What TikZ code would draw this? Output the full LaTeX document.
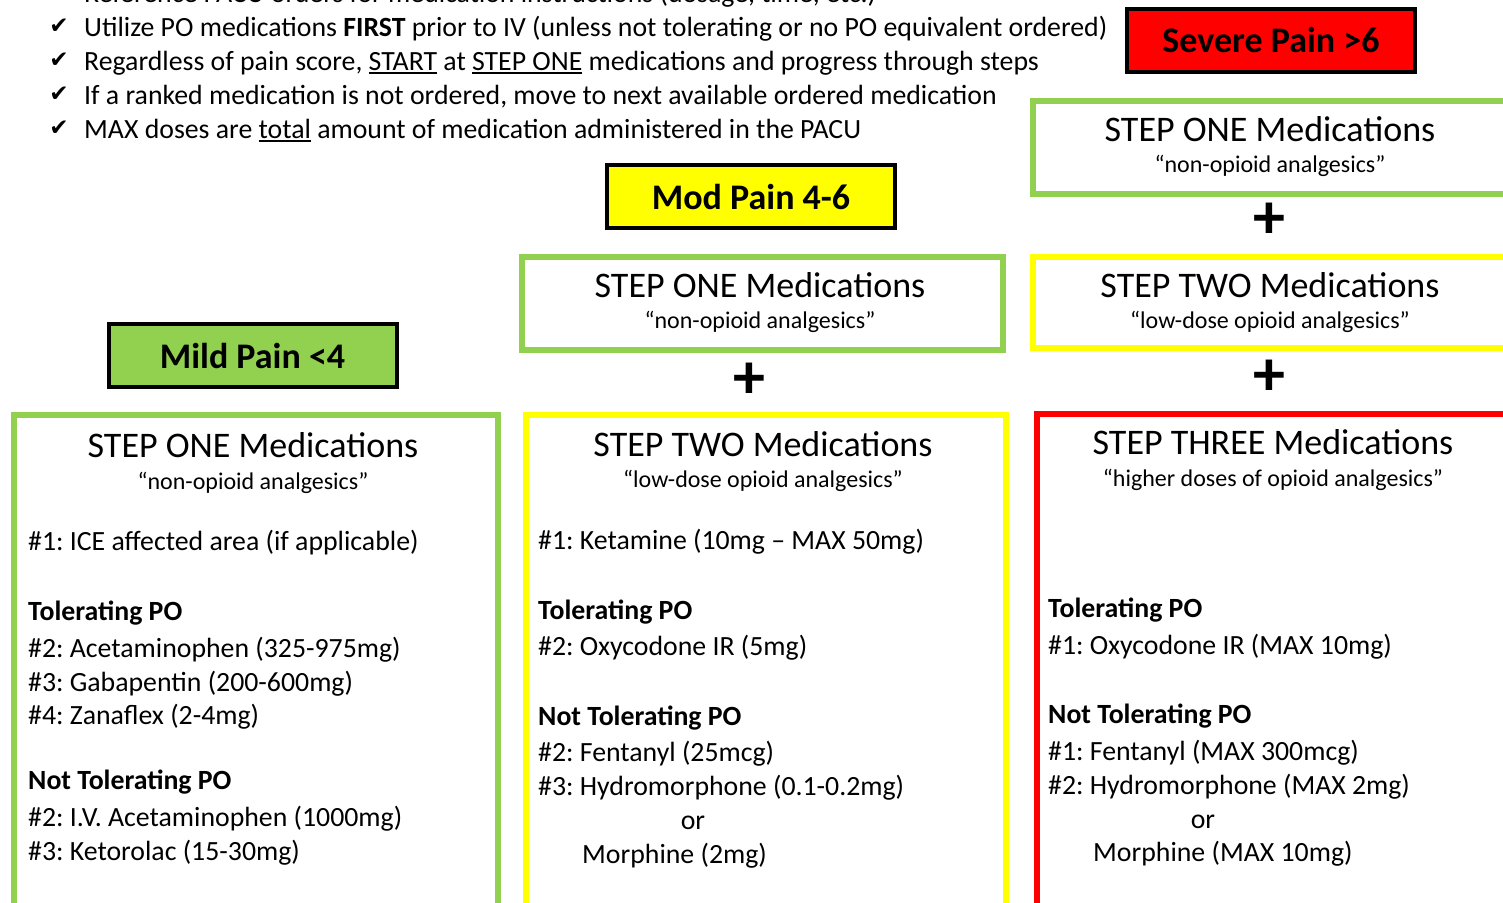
\documentclass[tikz,border=0pt]{standalone}
\usepackage{fontspec}
\setmainfont{Carlito}
\newfontfamily\symfont{DejaVu Sans}
\definecolor{pgreen}{HTML}{92D050}
\definecolor{pyellow}{HTML}{FFFF00}
\definecolor{pred}{HTML}{FF0000}
\newcommand\myul[1]{\setbox0\hbox{#1}\rlap{\rule[-4pt]{\wd0}{2pt}}\box0\relax}
\tikzset{
 painbox/.style={draw=black, line width=4pt, minimum width=288pt, minimum height=63pt, inner sep=0pt, font=\fontsize{36}{42}\selectfont\bfseries},
 stepbox/.style={line width=6pt, anchor=north west, inner sep=0pt},
 ttl/.style={anchor=base, inner sep=0pt, font=\fontsize{36}{42}\selectfont},
 subt/.style={anchor=base, inner sep=0pt, font=\fontsize{24}{28}\selectfont},
 txt/.style={anchor=base west, inner sep=0pt, font=\fontsize{27.8}{33}\selectfont\frenchspacing},
 hd/.style={anchor=base west, inner sep=0pt, font=\fontsize{27.8}{33}\selectfont\bfseries},
 bul/.style={anchor=base west, inner sep=0pt, font=\fontsize{27.8}{33}\selectfont\frenchspacing},
 chk/.style={anchor=base, inner sep=0pt, font=\symfont\fontsize{23}{26}\selectfont},
 plussign/.style={inner sep=0pt, font=\fontsize{64}{74}\selectfont\bfseries},
}
\begin{document}
\begin{tikzpicture}[x=1pt,y=-1pt]
\useasboundingbox (0,0) rectangle (1503,902);
\clip (0,0) rectangle (1503,902);
\fill[white] (0,0) rectangle (1503,902);

% bullets
\node[bul] (b0) at (84,2) {Reference PACU orders for medication instructions (dosage, time, etc.)};
\node[chk] (c1) at (59,33) {✔};
\node[bul] (b1) at (84,36) {Utilize PO medications \textbf{FIRST} prior to IV (unless not tolerating or no PO equivalent ordered)};
\node[chk] (c2) at (59,67) {✔};
\node[bul] (b2) at (84,70) {Regardless of pain score, \myul{START} at \myul{STEP ONE} medications and progress through steps};
\node[chk] (c3) at (59,101) {✔};
\node[bul] (b3) at (84,104) {If a ranked medication is not ordered, move to next available ordered medication};
\node[chk] (c4) at (59,135) {✔};
\node[bul] (b4) at (84,138) {MAX doses are \myul{total} amount of medication administered in the PACU};

% pain labels
\node[painbox, fill=pred] (severe) at (1271,40.5) {Severe Pain >6};
\node[painbox, fill=pyellow] (mod) at (751,196.5) {Mod Pain 4-6};
\node[painbox, fill=pgreen] (mild) at (252.5,355.5) {Mild Pain <4};

% boxes
\node[stepbox, draw=pgreen, minimum width=500pt, minimum height=93pt] (r1) at (1030,98) {};
\node[stepbox, draw=pyellow, minimum width=500pt, minimum height=91pt] (r2) at (1030,254) {};
\node[stepbox, draw=pred, minimum width=520pt, minimum height=500pt] (r3) at (1034,411) {};
\node[stepbox, draw=pgreen, minimum width=481pt, minimum height=93pt] (m1) at (519,254) {};
\node[stepbox, draw=pyellow, minimum width=480pt, minimum height=500pt] (m2) at (523,412) {};
\node[stepbox, draw=pgreen, minimum width=484pt, minimum height=500pt] (l1) at (11,412) {};

% plus signs
\node[plussign] (p1) at (1269,221) {+};
\node[plussign] (p2) at (749,381) {+};
\node[plussign] (p3) at (1269,378) {+};

% titles
\node[ttl] (r1t) at (1270,141) {STEP ONE Medications};
\node[subt] (r1s) at (1270,172) {“non-opioid analgesics”};
\node[ttl] (r2t) at (1270,297) {STEP TWO Medications};
\node[subt] (r2s) at (1270,328) {“low-dose opioid analgesics”};
\node[ttl] (m1t) at (760,297) {STEP ONE Medications};
\node[subt] (m1s) at (760,328) {“non-opioid analgesics”};
\node[ttl] (l1t) at (253,457) {STEP ONE Medications};
\node[subt] (l1s) at (253,489) {“non-opioid analgesics”};
\node[ttl] (m2t) at (763,456) {STEP TWO Medications};
\node[subt] (m2s) at (763,487) {“low-dose opioid analgesics”};
\node[ttl] (r3t) at (1273,454) {STEP THREE Medications};
\node[subt] (r3s) at (1273,486) {“higher doses of opioid analgesics”};

% left column
\node[txt] (la) at (28,550) {\#1: ICE affected area (if applicable)};
\node[hd] (lb) at (28,620) {Tolerating PO};
\node[txt] (lc) at (28,657) {\#2: Acetaminophen (325-975mg)};
\node[txt] (ld) at (28,691) {\#3: Gabapentin (200-600mg)};
\node[txt] (le) at (28,724) {\#4: Zanaflex (2-4mg)};
\node[hd] (lf) at (28,789) {Not Tolerating PO};
\node[txt] (lg) at (28,826) {\#2: I.V. Acetaminophen (1000mg)};
\node[txt] (lh) at (28,860) {\#3: Ketorolac (15-30mg)};

% middle column
\node[txt] (ma) at (538,549) {\#1: Ketamine (10mg – MAX 50mg)};
\node[hd] (mb) at (538,619) {Tolerating PO};
\node[txt] (mc) at (538,655) {\#2: Oxycodone IR (5mg)};
\node[hd] (md) at (538,725) {Not Tolerating PO};
\node[txt] (me) at (538,761) {\#2: Fentanyl (25mcg)};
\node[txt] (mf) at (538,795) {\#3: Hydromorphone (0.1-0.2mg)};
\node[txt, anchor=base] (mg) at (693,829) {or};
\node[txt] (mh) at (582,863) {Morphine (2mg)};

% right column
\node[hd] (rb) at (1048,617) {Tolerating PO};
\node[txt] (rc) at (1048,654) {\#1: Oxycodone IR (MAX 10mg)};
\node[hd] (rd) at (1048,723) {Not Tolerating PO};
\node[txt] (re) at (1048,760) {\#1: Fentanyl (MAX 300mcg)};
\node[txt] (rf) at (1048,794) {\#2: Hydromorphone (MAX 2mg)};
\node[txt, anchor=base] (rg) at (1203,828) {or};
\node[txt] (rh) at (1093,861) {Morphine (MAX 10mg)};
\end{tikzpicture}
\end{document}
